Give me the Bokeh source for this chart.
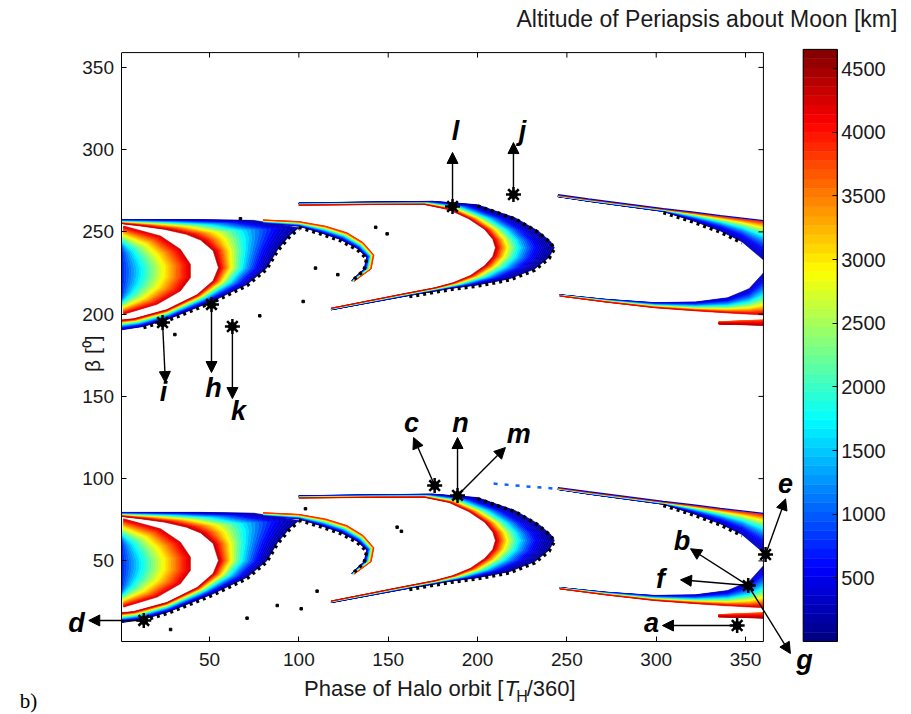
import numpy as np
from bokeh.plotting import figure
from bokeh.models import (Range1d, LinearAxis, FixedTicker, Label, Arrow,
                          NormalHead, ColumnDataSource)
from bokeh.embed import file_html
from bokeh.resources import INLINE

# ------------------------------------------------------------------ data
X_TICKS = [50, 100, 150, 200, 250, 300, 350]
Y_TICKS = [50, 100, 150, 200, 250, 300, 350]
CB_TICKS = [500, 1000, 1500, 2000, 2500, 3000, 3500, 4000, 4500]
X_LIM = (1, 360)
Y_LIM = (1, 359)
CB_LIM = (0, 4650)
FAMILY_SHIFT = [0, 178]          # beta offset of lower / upper family

# each band: low-altitude edge (blue) and high-altitude edge (red)
LENS_LO_X = [1, 1, 1, 1, 1, 1, 1, 1]
LENS_LO_Y = [62, 57, 52, 49, 46, 42, 37, 32]
LENS_HI_X = [1.9, 22.6, 33.7, 39.3, 39.3, 33.7, 20.7, 1.9]
LENS_HI_Y = [75.6, 69.5, 61.4, 52.3, 44.2, 36.1, 28.0, 21.9]
LENS_ALT = (700, 4300, 1.0)      # low km, high km, profile exponent

OC_LO_X = [1, 13, 27, 52, 71, 82, 88, 95, 100, 75, 45, 1]
OC_LO_Y = [12.5, 14.5, 19, 30, 40, 50, 61, 70, 74.5, 79, 79.5, 79.5]
OC_HI_X = [1, 7.5, 26, 43, 52, 55, 52, 45, 37, 25, 12, 1]
OC_HI_Y = [18.5, 19.2, 24.7, 33.8, 42.3, 50.2, 60.6, 67, 70.5, 73.5, 75.5, 77]
OC_ALT = (150, 4450, 1.5)

HK_LO_X = [80, 100, 112, 123, 132.5, 138, 136.5, 129.5]
HK_LO_Y = [77.5, 75.5, 71.5, 67.5, 62, 56.5, 49.5, 42.5]
HK_HI_X = [80, 100, 115, 127, 136, 142, 140.5, 131]
HK_HI_Y = [79.3, 78.3, 75.5, 71.5, 65.5, 58, 49.5, 42]
HK_ALT = (300, 4000, 1.6)

MC_LO_X = [100, 140, 175, 200, 221, 234, 241, 243, 240, 232, 218, 200, 185, 160, 118]
MC_LO_Y = [89.6, 90.2, 90.6, 88.5, 80.6, 72.5, 66, 62.4, 56.5, 49.5, 43.5, 39.8, 37.7, 33, 24.6]
MC_HI_X = [100, 140, 170, 184, 195, 204, 208.5, 210, 208.5, 204, 196, 186, 176, 156, 118]
MC_HI_Y = [88.2, 88.6, 88.7, 85.5, 80, 73.5, 67.5, 62.4, 57, 51.5, 45.5, 41, 38, 33.8, 25.6]
MC_ALT = (150, 4450, 2.0)

RU_X = [245, 262, 304, 321, 336, 348, 360]
RU_LO_Y = [93.4, 90.6, 84.4, 78.6, 72.5, 66, 55]
RU_HI_Y = [94.2, 91.7, 85.8, 83.6, 81.5, 80, 78.5]
RU_ALT = (300, 4000, 2.0)
RU_TAIL_X = [209, 227, 245]      # sparse start of the lower family's upper arm
RU_TAIL_Y = [97, 95.3, 93.8]

RL_X = [246, 272, 299, 322, 340, 352, 360]
RL_LO_Y = [33.8, 31, 29, 29.4, 32, 37.5, 47]
RL_HI_Y = [33, 29.3, 25.9, 24, 22.7, 22, 21.5]
RL_ALT = (300, 4300, 1.6)

ST_X = [335, 348, 360]
ST_LO_Y = [17.3, 18, 18.5]
ST_HI_Y = [16, 15.6, 15.2]
ST_ALT = (3600, 4400, 1.0)

SPECK_X = [71, 87.9, 28.2, 103.7, 155, 157.4, 110.2, 101.3,
           67.3, 143, 149.4, 109.3, 121.8, 102.4, 78.1, 30.6]
SPECK_Y = [15.2, 22.9, 8.3, 81.7, 70.5, 68, 31.6, 20.9,
           258, 252.8, 248.8, 228, 224, 207.7, 199, 187.6]

MARK_X = [345.3, 351.5, 361.2, 13.2, 176, 188.8, 186, 220.1, 23.7, 51.1, 62.8]
MARK_Y = [10.7, 35, 53.9, 13.8, 95.8, 89.8, 265.4, 272.7, 194.9, 205.9, 192.5]

ANN_TEXT = ["a", "b", "f", "g", "e", "d", "c", "n", "m", "l", "j", "i", "h", "k"]
ANN_X0 = [345.3, 351.5, 351.5, 351.5, 361.2, 13.2, 176, 188.8, 188.8, 186, 220.1, 23.7, 51.1, 62.8]
ANN_Y0 = [10.7, 35, 35, 35, 53.9, 13.8, 95.8, 89.8, 89.8, 265.4, 272.7, 194.9, 205.9, 192.5]
ANN_X1 = [303.5, 319.2, 313.6, 375.1, 372.4, -17.6, 164.2, 188.8, 215.6, 186, 220.1, 25.3, 51.1, 62.8]
ANN_Y1 = [10.7, 57.4, 38.5, -6.3, 87.7, 13.8, 125, 125, 118.9, 298.3, 304.3, 158.4, 164.5, 148.7]
ANN_LX = [297.3, 314.5, 302.4, 383, 372.4, -24.4, 163, 190.5, 223, 187.7, 225.2, 24.2, 52.2, 66.2]
ANN_LY = [12.5, 62, 39.1, -10.5, 97, 12, 134.1, 134.1, 127.4, 311.6, 311.6, 152.4, 154.8, 141.4]

# ------------------------------------------------------------------ layout calibration (pixels)
W, H = 911, 714
X0_PX, X_PPU = 119.7, 1.7867      # pixel of x=0, pixels per unit
Y1_PX, Y_PPU = 641.0, 1.645       # pixel of beta=1
CB_Y0_PX, CB_PPU = 641.0, 0.12733  # pixel of 0 km, pixels per km
CB_X0, CB_X1 = 382.3, 401.3
TICK_PX = 5

XR = (-X0_PX / X_PPU, (W - X0_PX) / X_PPU)
YR = (1 + (Y1_PX - H) / Y_PPU, 1 + Y1_PX / Y_PPU)
CBR = (-(H - CB_Y0_PX) / CB_PPU, CB_Y0_PX / CB_PPU)


def jet(t):
    t = min(max(t, 0.0), 1.0)
    r = min(max(1.5 - abs(4 * t - 3), 0.0), 1.0)
    g = min(max(1.5 - abs(4 * t - 2), 0.0), 1.0)
    b = min(max(1.5 - abs(4 * t - 1), 0.0), 1.0)
    return "#%02x%02x%02x" % (round(r * 255), round(g * 255), round(b * 255))


def band(lx, ly, hx, hy, alt, shift, k_levels=28):
    lx, ly, hx, hy = (np.asarray(a, float) for a in (lx, ly, hx, hy))
    lo, hi, gam = alt
    xs, ys, cs = [], [], []
    for k in range(k_levels):
        t0, t1 = k / k_levels, (k + 1) / k_levels
        ax, ay = lx + (hx - lx) * t0, ly + (hy - ly) * t0 + shift
        bx, by = lx + (hx - lx) * t1, ly + (hy - ly) * t1 + shift
        xs.append(list(ax) + list(bx[::-1]))
        ys.append(list(ay) + list(by[::-1]))
        v = lo + (hi - lo) * ((k + 0.5) / k_levels) ** gam
        cs.append(jet(v / CB_LIM[1]))
    return xs, ys, cs


p = figure(width=W, height=H, x_range=Range1d(*XR), y_range=Range1d(*YR),
           x_axis_location=None, y_axis_location=None, toolbar_location=None,
           output_backend="svg", min_border=0, outline_line_color=None,
           background_fill_color="white", border_fill_color="white")
p.grid.visible = False
p.extra_y_ranges = {"cb": Range1d(*CBR)}

BANDS = [
    (LENS_LO_X, LENS_LO_Y, LENS_HI_X, LENS_HI_Y, LENS_ALT),
    (OC_LO_X, OC_LO_Y, OC_HI_X, OC_HI_Y, OC_ALT),
    (HK_LO_X, HK_LO_Y, HK_HI_X, HK_HI_Y, HK_ALT),
    (MC_LO_X, MC_LO_Y, MC_HI_X, MC_HI_Y, MC_ALT),
    (RU_X, RU_LO_Y, RU_X, RU_HI_Y, RU_ALT),
    (RL_X, RL_LO_Y, RL_X, RL_HI_Y, RL_ALT),
    (ST_X, ST_LO_Y, ST_X, ST_HI_Y, ST_ALT),
]
all_xs, all_ys, all_cs = [], [], []
for shift in FAMILY_SHIFT:
    for lx, ly, hx, hy, alt in BANDS:
        xs, ys, cs = band(lx, ly, hx, hy, alt, shift)
        all_xs += xs
        all_ys += ys
        all_cs += cs
p.patches(all_xs, all_ys, fill_color=all_cs, line_color=all_cs, line_width=0.6)

# thin blue top line of the right upper arm + sparse tail of the lower family
for shift in FAMILY_SHIFT:
    p.line(RU_X, [v + shift + 0.4 for v in RU_HI_Y], line_color="#0000c8", line_width=1.2)
p.line(RU_TAIL_X, RU_TAIL_Y, line_color="#1060ff", line_width=2.5, line_dash="4 7")

# black dotted low-altitude edges
edges = [(OC_LO_X[1:9], OC_LO_Y[1:9]), (HK_LO_X[1:], HK_LO_Y[1:]),
         (MC_LO_X[3:14], MC_LO_Y[3:14]), (RU_X[2:6], RU_LO_Y[2:6])]
for shift in FAMILY_SHIFT:
    for ex, ey in edges:
        p.line(ex, [v + shift - 0.7 for v in ey], line_color="black",
               line_width=3.5, line_dash="3 4")

p.scatter(SPECK_X, SPECK_Y, marker="square", size=2.5, color="black")

# annotation markers
p.scatter(MARK_X, MARK_Y, marker="circle", size=8, color="black")
p.scatter(MARK_X, MARK_Y, marker="asterisk", size=15, line_color="black", line_width=2.5)

src = ColumnDataSource(dict(x0=ANN_X0, y0=ANN_Y0, x1=ANN_X1, y1=ANN_Y1))
p.add_layout(Arrow(end=NormalHead(size=11, fill_color="black", line_color="black"),
                   x_start="x0", y_start="y0", x_end="x1", y_end="y1",
                   source=src, line_color="black", line_width=1.4))
for t, lx, ly in zip(ANN_TEXT, ANN_LX, ANN_LY):
    p.add_layout(Label(x=lx, y=ly, text=t, text_font="Liberation Sans",
                       text_font_style="bold italic", text_font_size="27px",
                       text_align="center", text_baseline="middle", text_color="black"))

# ------------------------------------------------------------------ axes (box)
TICK_FONT = "Liberation Sans"
TXT = "#1a1a1a"


def mk_axis(loc, bounds, ticks, standoff, size="19px", y_range_name="default"):
    return LinearAxis(fixed_location=loc, bounds=bounds, ticker=FixedTicker(ticks=ticks),
                      major_tick_in=TICK_PX, major_tick_out=0, minor_tick_line_color=None,
                      axis_line_color="black", major_tick_line_color="black",
                      major_label_standoff=standoff, major_label_text_font=TICK_FONT,
                      major_label_text_font_size=size, major_label_text_color=TXT,
                      y_range_name=y_range_name)


p.add_layout(mk_axis(Y_LIM[0], X_LIM, X_TICKS, 11), "below")
p.add_layout(mk_axis(X_LIM[0], Y_LIM, Y_TICKS, 8), "left")
# top / right edges of the box: plain lines with inward ticks
top_y = [Y_LIM[1]] * len(X_TICKS)
p.segment(x0=X_TICKS, y0=top_y, x1=X_TICKS, y1=[Y_LIM[1] - TICK_PX / Y_PPU] * len(X_TICKS),
          line_color="black", line_width=1)
right_x = [X_LIM[1]] * len(Y_TICKS)
p.segment(x0=right_x, y0=Y_TICKS, x1=[X_LIM[1] - TICK_PX / X_PPU] * len(Y_TICKS), y1=Y_TICKS,
          line_color="black", line_width=1)
p.line([X_LIM[0], X_LIM[1], X_LIM[1]], [Y_LIM[1], Y_LIM[1], Y_LIM[0]],
       line_color="black", line_width=1)

# ------------------------------------------------------------------ colour bar
n_cb = 64
edges_cb = np.linspace(CB_LIM[0], CB_LIM[1], n_cb + 1)
cb_cols = [jet((i + 0.5) / n_cb) for i in range(n_cb)]
p.quad(left=CB_X0, right=CB_X1, bottom=edges_cb[:-1], top=edges_cb[1:],
       fill_color=cb_cols, line_color=cb_cols, line_width=0.5, y_range_name="cb")
p.quad(left=CB_X0, right=CB_X1, bottom=CB_LIM[0], top=CB_LIM[1], fill_color=None,
       line_color="black", line_width=1, y_range_name="cb")
p.add_layout(mk_axis(CB_X1, CB_LIM, CB_TICKS, 4, size="20px", y_range_name="cb"), "right")

# ------------------------------------------------------------------ texts
p.add_layout(Label(x=435.0, y=379.7, text="Altitude of Periapsis about Moon [km]",
                   text_font=TICK_FONT, text_font_size="23px", text_align="right",
                   text_baseline="middle", text_color=TXT))
p.add_layout(Label(x=214.5, y=-27.6, text="Phase of Halo orbit [", text_font=TICK_FONT,
                   text_font_size="22px", text_align="right", text_baseline="middle",
                   text_color=TXT))
p.add_layout(Label(x=215.1, y=-27.6, text="T", text_font=TICK_FONT, text_font_style="italic",
                   text_font_size="22px", text_align="left", text_baseline="middle",
                   text_color=TXT))
p.add_layout(Label(x=221.7, y=-32.3, text="H", text_font=TICK_FONT,
                   text_font_size="16px", text_align="left", text_baseline="middle",
                   text_color=TXT))
p.add_layout(Label(x=227.5, y=-27.6, text="/360]", text_font=TICK_FONT,
                   text_font_size="22px", text_align="left", text_baseline="middle",
                   text_color=TXT))
p.add_layout(Label(x=-15.5, y=176.0, text="β [⁰]", text_font=TICK_FONT, angle=np.pi / 2,
                   text_font_size="21px", text_align="center", text_baseline="middle",
                   text_color=TXT))
p.add_layout(Label(x=-51.3, y=-34.9, text="b)", text_font="Liberation Serif",
                   text_font_size="21px", text_align="center", text_baseline="middle",
                   text_color="black"))

open("out.html", "w").write(file_html(p, INLINE))
